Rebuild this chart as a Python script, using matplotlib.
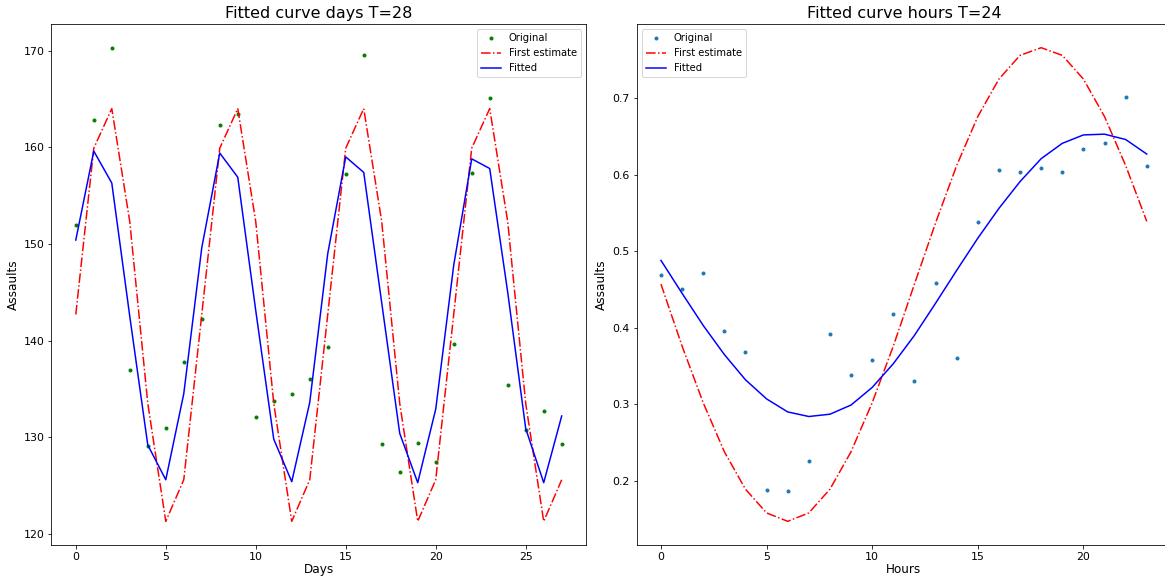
import numpy as np
import matplotlib
matplotlib.use('Agg')
import matplotlib.pyplot as plt

days = np.arange(28)
days_original = [152.0, 162.8, 170.3, 137.0, 129.1, 131.0, 137.8,
                 142.2, 162.3, 163.4, 132.1, 133.7, 134.5, 136.0,
                 139.3, 157.2, 169.5, 129.3, 126.4, 129.4, 127.4,
                 139.6, 157.3, 165.1, 135.4, 130.8, 132.7, 129.3]
days_first = [142.7, 159.9, 164.0, 152.3, 133.5, 121.3, 125.6,
              142.7, 159.9, 164.0, 152.3, 133.5, 121.3, 125.6,
              142.7, 159.9, 164.0, 152.3, 133.5, 121.3, 125.6,
              142.7, 159.9, 164.0, 152.3, 133.5, 121.3, 125.6]
days_fitted = [150.4, 159.6, 156.3, 142.5, 129.2, 125.6, 134.5,
               149.6, 159.4, 156.9, 143.1, 129.8, 125.4, 133.6,
               149.0, 159.0, 157.4, 143.9, 130.4, 125.3, 132.9,
               147.8, 158.8, 157.8, 145.0, 130.9, 125.3, 132.2]

hours = np.arange(24)
hours_original = [0.469, 0.450, 0.472, 0.396, 0.368, 0.188, 0.186, 0.226,
                  0.392, 0.338, 0.358, 0.418, 0.330, 0.458, 0.360, 0.538,
                  0.606, 0.603, 0.609, 0.603, 0.633, 0.641, 0.701, 0.611]
hours_first = [0.457, 0.376, 0.302, 0.238, 0.189, 0.158, 0.147, 0.158,
               0.189, 0.238, 0.302, 0.376, 0.457, 0.537, 0.612, 0.676,
               0.725, 0.756, 0.766, 0.756, 0.725, 0.676, 0.612, 0.539]
hours_fitted = [0.488, 0.445, 0.403, 0.365, 0.332, 0.307, 0.290, 0.284,
                0.287, 0.299, 0.322, 0.353, 0.390, 0.432, 0.475, 0.517,
                0.556, 0.591, 0.621, 0.641, 0.652, 0.653, 0.646, 0.627]

fig = plt.figure(figsize=(1165 / 72, 576 / 72), dpi=72)
ax1 = fig.add_axes([0.0442, 0.0538, 0.4588, 0.9045])
ax2 = fig.add_axes([0.5465, 0.0538, 0.4587, 0.9045])

ax1.plot(days, days_original, 'g.', label='Original')
ax1.plot(days, days_first, 'r-.', label='First estimate')
ax1.plot(days, days_fitted, 'b-', label='Fitted')
ax1.set_title('Fitted curve days T=28', fontsize=16)
ax1.set_xlabel('Days', fontsize=12, labelpad=1)
ax1.set_ylabel('Assaults', fontsize=12)
ax1.tick_params(labelsize=11)
ax1.legend(loc='upper right', fontsize=10)

ax2.plot(hours, hours_original, '.', label='Original')
ax2.plot(hours, hours_first, 'r-.', label='First estimate')
ax2.plot(hours, hours_fitted, 'b-', label='Fitted')
ax2.set_title('Fitted curve hours T=24', fontsize=16)
ax2.set_xlabel('Hours', fontsize=12, labelpad=1)
ax2.set_ylabel('Assaults', fontsize=12)
ax2.tick_params(labelsize=11)
ax2.legend(loc='upper left', fontsize=10)

fig.savefig('out.png', dpi=72)
